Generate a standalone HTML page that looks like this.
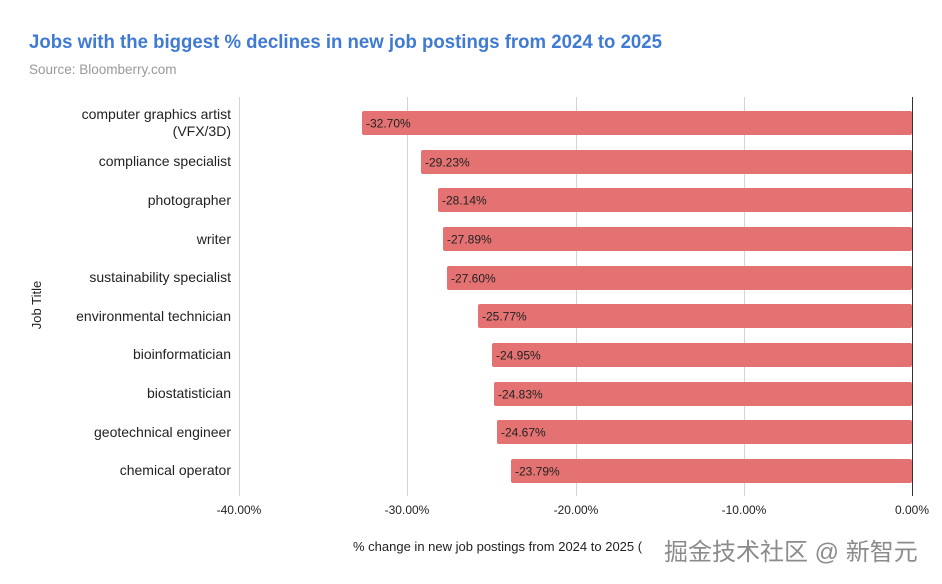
<!DOCTYPE html>
<html><head><meta charset="utf-8"><style>
body{margin:0;background:#fff;}
svg{display:block;font-family:"Liberation Sans","Noto Sans CJK SC",sans-serif;}
</style></head><body>
<svg width="942" height="584" viewBox="0 0 942 584">
<rect width="942" height="584" fill="#fff"/>
<text x="29" y="48" font-size="19" font-weight="bold" fill="#3f7ad3" textLength="633" lengthAdjust="spacingAndGlyphs">Jobs with the biggest % declines in new job postings from 2024 to 2025</text>
<text x="29" y="74" font-size="13.5" fill="#999">Source: Bloomberry.com</text>
<g stroke="#d4d4d4" stroke-width="1">
<line x1="239.5" y1="97" x2="239.5" y2="496"/>
<line x1="407.5" y1="97" x2="407.5" y2="496"/>
<line x1="576.5" y1="97" x2="576.5" y2="496"/>
<line x1="744.5" y1="97" x2="744.5" y2="496"/>
</g>
<g fill="#e47272">
<rect x="362" y="111" width="550" height="24" rx="2"/>
<rect x="421" y="150" width="491" height="24" rx="2"/>
<rect x="438" y="188" width="474" height="24" rx="2"/>
<rect x="443" y="227" width="469" height="24" rx="2"/>
<rect x="447" y="266" width="465" height="24" rx="2"/>
<rect x="478" y="304" width="434" height="24" rx="2"/>
<rect x="492" y="343" width="420" height="24" rx="2"/>
<rect x="494" y="382" width="418" height="24" rx="2"/>
<rect x="497" y="420" width="415" height="24" rx="2"/>
<rect x="511" y="459" width="401" height="24" rx="2"/>
</g>
<line x1="912.5" y1="97" x2="912.5" y2="496" stroke="#333" stroke-width="1"/>
<g font-size="12" fill="#222">
<text x="366" y="127.5">-32.70%</text>
<text x="425" y="166.5">-29.23%</text>
<text x="442" y="204.5">-28.14%</text>
<text x="447" y="243.5">-27.89%</text>
<text x="451" y="282.5">-27.60%</text>
<text x="482" y="320.5">-25.77%</text>
<text x="496" y="359.5">-24.95%</text>
<text x="498" y="398.5">-24.83%</text>
<text x="501" y="436.5">-24.67%</text>
<text x="515" y="475.5">-23.79%</text>
</g>
<g font-size="14" fill="#222" text-anchor="end">
<text x="231" y="119">computer graphics artist</text>
<text x="231" y="136">(VFX/3D)</text>
<text x="231" y="166">compliance specialist</text>
<text x="231" y="205">photographer</text>
<text x="231" y="244">writer</text>
<text x="231" y="282">sustainability specialist</text>
<text x="231" y="321">environmental technician</text>
<text x="231" y="359">bioinformatician</text>
<text x="231" y="398">biostatistician</text>
<text x="231" y="437">geotechnical engineer</text>
<text x="231" y="475">chemical operator</text>
</g>
<text transform="translate(41,305) rotate(-90)" font-size="13" fill="#222" text-anchor="middle">Job Title</text>
<g font-size="12" fill="#222" text-anchor="middle">
<text x="239" y="514">-40.00%</text>
<text x="407" y="514">-30.00%</text>
<text x="576" y="514">-20.00%</text>
<text x="744" y="514">-10.00%</text>
<text x="912" y="514">0.00%</text>
</g>
<text x="353" y="551" font-size="13" fill="#222">% change in new job postings from 2024 to 2025 (</text>
<text x="664" y="560" font-size="24" fill="#777" opacity="0.85">掘金技术社区 @ 新智元</text>
</svg>
</body></html>
